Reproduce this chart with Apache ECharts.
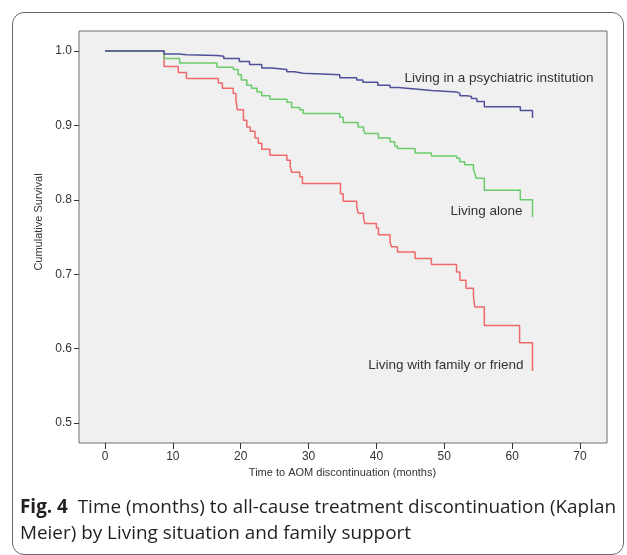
<!DOCTYPE html>
<html>
<head>
<meta charset="utf-8">
<script src="https://cdn.jsdelivr.net/npm/echarts@6/dist/echarts.min.js"></script>
<style>
  html, body { margin: 0; padding: 0; background: #fff; }
  #frame {
    position: absolute; left: 12px; top: 12px; width: 610px; height: 541px;
    border: 1px solid #6a6a6a; border-radius: 12px; pointer-events: none;
  }
  #chart { position: absolute; left: 0; top: 0; width: 627px; height: 555px; }
</style>
</head>
<body>
<div id="frame"></div>
<div id="chart"></div>
<script>
// Kaplan-Meier step points (months, cumulative survival)
const famTime = [0, 8.7, 10.8, 12.0, 16.7, 17.3, 18.9, 19.3, 19.5, 20.4, 20.9, 21.4, 22.1, 22.6, 23.1, 24.3,
  26.8, 27.3, 27.5, 28.7, 29.1, 34.7, 35.1, 37.1, 37.3, 38.1, 38.3, 40.0, 40.3, 42.0, 42.2, 43.1,
  45.7, 48.1, 51.8, 52.3, 53.2, 54.3, 54.5, 55.9, 61.1, 63.0]
const famSurv = [1.0, 0.979, 0.971, 0.963, 0.957, 0.950, 0.943, 0.934, 0.921, 0.907, 0.898, 0.892, 0.883, 0.876, 0.868, 0.860,
  0.853, 0.845, 0.837, 0.831, 0.822, 0.808, 0.798, 0.791, 0.782, 0.775, 0.768, 0.762, 0.753, 0.744, 0.737, 0.730,
  0.721, 0.713, 0.703, 0.692, 0.681, 0.670, 0.656, 0.631, 0.608, 0.570]

const aloneTime = [0, 8.7, 11.0, 16.5, 18.9, 19.6, 20.1, 20.9, 21.6, 22.4, 23.1, 24.3, 26.8, 27.5, 28.7, 29.2,
  34.6, 35.1, 37.3, 38.1, 38.3, 40.3, 42.0, 42.7, 43.1, 45.7, 48.1, 51.8, 52.3, 53.0, 54.3, 54.5,
  54.7, 55.9, 61.2, 63.0]
const aloneSurv = [1.0, 0.990, 0.984, 0.978, 0.975, 0.968, 0.961, 0.954, 0.950, 0.945, 0.940, 0.935, 0.931, 0.924, 0.921, 0.916,
  0.911, 0.904, 0.898, 0.894, 0.889, 0.883, 0.878, 0.872, 0.869, 0.863, 0.859, 0.856, 0.851, 0.847, 0.840, 0.836,
  0.829, 0.813, 0.800, 0.777]

const instTime = [0, 8.7, 10.8, 12.0, 16.5, 17.5, 19.8, 21.3, 23.1, 24.6, 26.8, 27.9, 29.2, 34.6, 37.1, 38.0,
  40.2, 42.0, 43.2, 45.7, 48.1, 51.8, 52.3, 53.3, 54.0, 54.8, 55.9, 61.2, 63.0]
const instSurv = [1.0, 0.996, 0.995, 0.994, 0.993, 0.990, 0.986, 0.982, 0.977, 0.975, 0.972, 0.970, 0.968, 0.964, 0.961, 0.958,
  0.954, 0.951, 0.949, 0.947, 0.945, 0.943, 0.940, 0.939, 0.936, 0.932, 0.925, 0.920, 0.910]

const groupNames = ['Living with family or friend', 'Living alone', 'Living in a psychiatric institution']
const xTicks = [0, 70, 10]     // min, max, step
const yTicks = [0.5, 1.0, 0.1]

const FONT = '"Liberation Sans", Arial, sans-serif'
const CAP_FONT = '"Open Sans", sans-serif'

function pairs(t, s) {
  return t.map((v, i) => [v, s[i]])
}

function kmSeries(name, t, s, color, offset) {
  return {
    name: name,
    type: 'line',
    step: 'end',
    xAxisIndex: 1,
    yAxisIndex: 1,
    data: pairs(t, s),
    symbol: 'none',
    clip: false,
    lineStyle: { color: color, width: 1.5 },
    endLabel: {
      show: true,
      formatter: name,
      color: '#333',
      fontSize: 13.5,
      fontFamily: FONT,
      distance: 0,
      align: 'right',
      verticalAlign: 'middle',
      offset: offset,
    },
  }
}

const chart = echarts.init(document.getElementById('chart'), null, { renderer: 'canvas' })

chart.setOption({
  animation: false,
  backgroundColor: 'transparent',
  title: {
    left: 15,
    top: 490,
    text: '{b|Fig. 4}  Time (months) to all-cause treatment discontinuation (Kaplan\nMeier) by Living situation and family support',
    textStyle: {
      fontFamily: CAP_FONT,
      fontSize: 18.9,
      fontWeight: 'normal',
      color: '#231f20',
      lineHeight: 26,
      rich: {
        b: { fontFamily: CAP_FONT, fontSize: 18.9, fontWeight: 'bold', color: '#231f20', lineHeight: 26 },
      },
    },
  },
  grid: [
    // grey plot box
    { left: 79, right: 20, top: 31, bottom: 112, show: true, backgroundColor: '#f0f0f0', borderColor: '#6e6e6e', borderWidth: 1 },
    // data area
    { left: 105, right: 47, top: 51, bottom: 132, show: false },
    // y ticks on the box edge
    { left: 79, right: 20, top: 51, bottom: 132, show: false },
  ],
  xAxis: [
    { gridIndex: 0, type: 'value', show: false, min: 0, max: 1 },
    {
      gridIndex: 1,
      type: 'value',
      min: xTicks[0],
      max: xTicks[1],
      interval: xTicks[2],
      offset: 20,
      name: 'Time to AOM discontinuation (months)',
      nameLocation: 'middle',
      nameGap: 18,
      nameTextStyle: { color: '#333', fontSize: 11, fontFamily: FONT },
      axisLine: { show: false },
      axisTick: { show: true, length: 6, lineStyle: { color: '#333' } },
      axisLabel: { color: '#333', fontSize: 12, fontFamily: FONT, margin: 8 },
      splitLine: { show: false },
    },
    { gridIndex: 2, type: 'value', show: false, min: 0, max: 1 },
  ],
  yAxis: [
    { gridIndex: 0, type: 'value', show: false, min: 0, max: 1 },
    { gridIndex: 1, type: 'value', show: false, min: yTicks[0], max: yTicks[1] },
    {
      gridIndex: 2,
      type: 'value',
      min: yTicks[0],
      max: yTicks[1],
      interval: yTicks[2],
      name: 'Cumulative Survival',
      nameLocation: 'middle',
      nameGap: 26,
      nameTextStyle: { color: '#333', fontSize: 11, fontFamily: FONT, padding: [0, 0, 0, 30] },
      axisLine: { show: false },
      axisTick: { show: true, length: 5, lineStyle: { color: '#333' } },
      axisLabel: { color: '#333', fontSize: 12, fontFamily: FONT, margin: 7, formatter: (v) => v.toFixed(1) },
      splitLine: { show: false },
    },
  ],
  series: [
    kmSeries(groupNames[0], famTime, famSurv, '#ee6a6a', [-9, -6]),
    kmSeries(groupNames[1], aloneTime, aloneSurv, '#6acb6a', [-10, -6]),
    kmSeries(groupNames[2], instTime, instSurv, '#50509a', [61, -40]),
  ],
})
</script>
</body>
</html>
